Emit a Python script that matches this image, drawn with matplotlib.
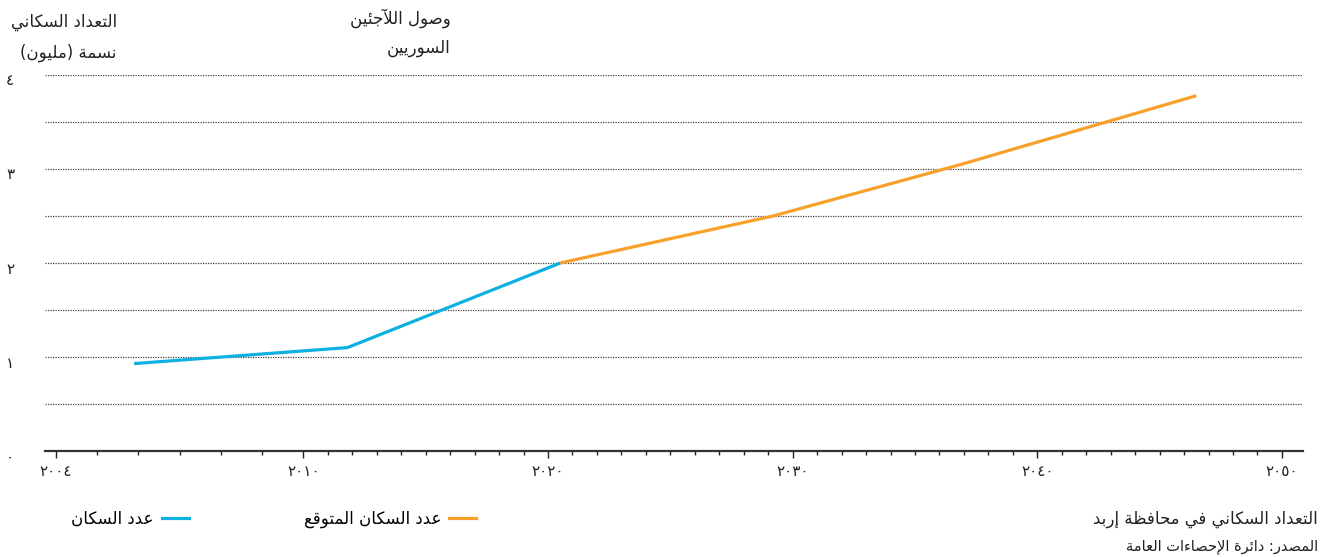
import matplotlib
matplotlib.use("Agg")
import matplotlib.pyplot as plt
from matplotlib.lines import Line2D
from matplotlib.transforms import blended_transform_factory, ScaledTranslation
import numpy as np

# population of Irbid governorate, million people
years_actual = [2005.9, 2011.8, 2020.5]
pop_actual = [0.93, 1.10, 2.00]
years_proj = [2020.5, 2029.2, 2036.9, 2046.5]
pop_proj = [2.00, 2.50, 3.05, 3.78]

major_years = [2004, 2010, 2020, 2030, 2040, 2050]
y_ticks = [0, 1, 2, 3, 4]

BLUE = "#0cb1e2"
ORANGE = "#f8a02c"
INK = "#222222"

# --- minimal arabic shaping (matplotlib draws glyphs without joining) ---
_dual = {'ئ': 0xFE89, 'ب': 0xFE8F, 'ت': 0xFE95, 'ث': 0xFE99, 'ج': 0xFE9D,
         'ح': 0xFEA1, 'خ': 0xFEA5, 'س': 0xFEB1, 'ش': 0xFEB5, 'ص': 0xFEB9,
         'ض': 0xFEBD, 'ط': 0xFEC1, 'ظ': 0xFEC5, 'ع': 0xFEC9, 'غ': 0xFECD,
         'ف': 0xFED1, 'ق': 0xFED5, 'ك': 0xFED9, 'ل': 0xFEDD, 'م': 0xFEE1,
         'ن': 0xFEE5, 'ه': 0xFEE9, 'ي': 0xFEF1}
_right = {'آ': 0xFE81, 'أ': 0xFE83, 'ؤ': 0xFE85, 'إ': 0xFE87, 'ا': 0xFE8D,
          'ة': 0xFE93, 'د': 0xFEA9, 'ذ': 0xFEAB, 'ر': 0xFEAD, 'ز': 0xFEAF,
          'و': 0xFEED, 'ى': 0xFEEF,
          'لآ': 0xFEF5, 'لأ': 0xFEF7, 'لإ': 0xFEF9, 'لا': 0xFEFB}
_none = {'ء': 0xFE80}
_mirror = {'(': ')', ')': '('}


def ar(text):
    toks = []
    i = 0
    while i < len(text):
        if text[i] == 'ل' and text[i:i + 2] in _right:
            toks.append(text[i:i + 2])
            i += 2
        else:
            toks.append(text[i])
            i += 1
    out = []
    for k, t in enumerate(toks):
        prev = toks[k - 1] if k > 0 else ''
        nxt = toks[k + 1] if k + 1 < len(toks) else ''
        if t in _dual or t in _right:
            base = _dual.get(t, _right.get(t))
            jp = prev in _dual
            jn = t in _dual and (nxt in _dual or nxt in _right)
            form = 3 if (jp and jn) else 1 if jp else 2 if jn else 0
            out.append(chr(base + form))
        elif t in _none:
            out.append(chr(_none[t]))
        else:
            out.append(_mirror.get(t, t))
    return ''.join(reversed(out))


def ar_num(n):
    return str(n).translate(str.maketrans('0123456789', '٠١٢٣٤٥٦٧٨٩'))


plt.rcParams['font.family'] = ['DejaVu Sans']

W, H = 1327, 557
fig = plt.figure(figsize=(W / 100, H / 100), dpi=100)
ax = fig.add_axes([45 / W, (H - 451) / H, (1303 - 45) / W, (451 - 75) / H])

# 2004-2010 is drawn wider than the later years
STRETCH = 41.3 / 24.48


def fwd(x):
    x = np.asarray(x, float)
    return np.where(x < 2010, 2010 + (x - 2010) * STRETCH, x)


def inv(x):
    x = np.asarray(x, float)
    return np.where(x < 2010, 2010 + (x - 2010) / STRETCH, x)


ax.set_xscale('function', functions=(fwd, inv))

ax.plot(years_actual, pop_actual, color=BLUE, lw=2.3, solid_capstyle='butt', zorder=3)
ax.plot(years_proj, pop_proj, color=ORANGE, lw=2.3, solid_capstyle='butt', zorder=3)

ax.set_xlim(2003.74, 2050.86)
ax.set_ylim(0, 4)

for v in np.arange(0.5, 4.01, 0.5):
    ax.axhline(v, color="#444444", lw=0.9, ls=(0, (1, 1)), zorder=1)

for s in ['top', 'right', 'left']:
    ax.spines[s].set_visible(False)
ax.spines['bottom'].set_color("#333333")
ax.spines['bottom'].set_linewidth(1.6)

minor_years = [y for y in range(2005, 2050) if y not in major_years]
ax.set_xticks(major_years, [ar_num(y) for y in major_years])
ax.set_xticks(minor_years, minor=True)
ax.tick_params(axis='x', which='major', length=5, width=1, color=INK,
               labelsize=11, pad=4, labelcolor=INK)
ax.tick_params(axis='x', which='minor', length=3, width=1, color=INK)
ax.set_yticks([])

ylab_tr = blended_transform_factory(fig.transFigure, ax.transData)
for v in y_ticks:
    ax.text(10 / W, v, ar_num(v), transform=ylab_tr + ScaledTranslation(0, -6 / 100, fig.dpi_scale_trans),
            ha='center', va='center', fontsize=11, color=INK)

# headings
fig.text(117 / W, 1 - 22 / H, ar("التعداد السكاني"), ha='right', va='center', fontsize=12, color=INK)
fig.text(117 / W, 1 - 53 / H, ar("نسمة (مليون)"), ha='right', va='center', fontsize=12, color=INK)
fig.text(451 / W, 1 - 18 / H, ar("وصول اللآجئين"), ha='right', va='center', fontsize=12, color=INK)
fig.text(451 / W, 1 - 48 / H, ar("السوريين"), ha='right', va='center', fontsize=12, color=INK)

fig.text(1318 / W, 1 - 519 / H, ar("التعداد السكاني في محافظة إربد"), ha='right', va='center',
         fontsize=12, color=INK)
fig.text(1318 / W, 1 - 547 / H, ar("المصدر: دائرة الإحصاءات العامة"), ha='right', va='center',
         fontsize=10.5, color=INK)

handles = [Line2D([], [], color=BLUE, lw=2.3), Line2D([], [], color=ORANGE, lw=2.3)]
labels = [ar("عدد السكان"), ar("عدد السكان المتوقع")]
fig.legend(handles, labels, ncol=2, markerfirst=False, frameon=False,
           loc='center left', bbox_to_anchor=(71 / W, 1 - 519 / H),
           fontsize=12, handlelength=1.6, handletextpad=0.5, columnspacing=6.9,
           borderpad=0, borderaxespad=0)

fig.savefig("out.png", dpi=100)
